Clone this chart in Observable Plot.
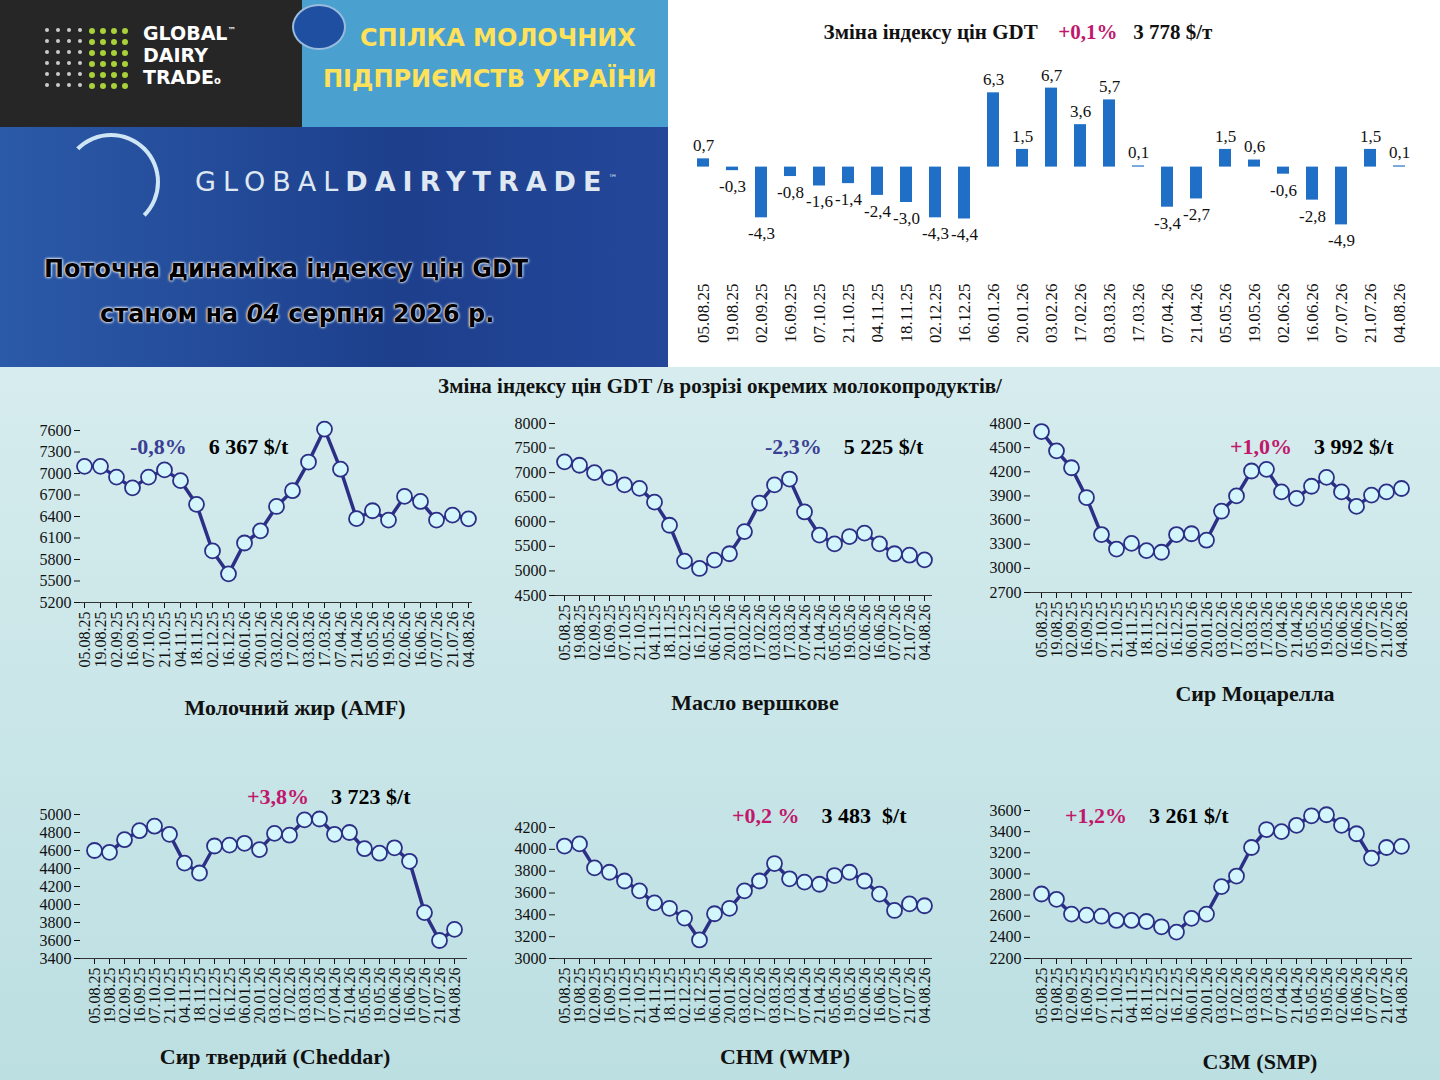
<!DOCTYPE html>
<html><head><meta charset="utf-8">
<script src="https://cdn.jsdelivr.net/npm/d3@7"></script>
<script src="https://cdn.jsdelivr.net/npm/@observablehq/plot@0.6"></script>
<style>
body{margin:0;width:1440px;height:1080px;position:relative;overflow:hidden;font-family:"Liberation Serif",serif;background:linear-gradient(#e4f3f4,#bcdfe2);}
.abs{position:absolute}
.ttl{position:absolute;font-weight:bold;font-size:22px;text-align:center;color:#111}
.ann{position:absolute;font-weight:bold;font-size:22px;white-space:nowrap}
svg{overflow:visible}
</style></head><body>
<script>
const dates=["05.08.25","19.08.25","02.09.25","16.09.25","07.10.25","21.10.25","04.11.25","18.11.25","02.12.25","16.12.25","06.01.26","20.01.26","03.02.26","17.02.26","03.03.26","17.03.26","07.04.26","21.04.26","05.05.26","19.05.26","02.06.26","16.06.26","07.07.26","21.07.26","04.08.26"];
const indexChange=[0.7,-0.3,-4.3,-0.8,-1.6,-1.4,-2.4,-3.0,-4.3,-4.4,6.3,1.5,6.7,3.6,5.7,0.1,-3.4,-2.7,1.5,0.6,-0.6,-2.8,-4.9,1.5,0.1];
const amf=[7100,7100,6950,6800,6950,7050,6900,6570,5920,5600,6030,6200,6540,6760,7160,7620,7060,6370,6480,6350,6680,6610,6350,6420,6367];
const butter=[7220,7150,7000,6900,6750,6680,6400,5930,5200,5050,5220,5350,5800,6380,6750,6870,6200,5730,5550,5700,5770,5550,5350,5320,5225];
const mozzarella=[4700,4460,4250,3880,3420,3240,3310,3220,3200,3420,3430,3350,3710,3900,4210,4230,3950,3870,4020,4130,3950,3770,3910,3950,3992];
const cheddar=[4600,4580,4720,4820,4870,4780,4460,4350,4650,4660,4680,4610,4790,4770,4940,4950,4780,4800,4620,4570,4630,4480,3910,3600,3723];
const wmp=[4030,4050,3830,3790,3710,3620,3510,3460,3370,3170,3410,3460,3620,3710,3870,3730,3700,3680,3760,3790,3710,3590,3440,3500,3483];
const smp=[2810,2760,2620,2610,2600,2560,2560,2550,2500,2450,2580,2620,2880,2980,3250,3420,3400,3460,3550,3560,3460,3380,3150,3250,3261];

function place(el,l,t){el.style.position="absolute";el.style.left=l+"px";el.style.top=t+"px";document.body.appendChild(el);}
function div(html,cls,style){const d=document.createElement("div");d.className=cls||"";d.innerHTML=html;d.setAttribute("style",style||"");document.body.appendChild(d);return d;}

div("","abs","left:0;top:0;width:302px;height:127px;background:#262626");
div("","abs","left:302px;top:0;width:373px;height:127px;background:#4aa0cf");
div("","abs","left:0;top:127px;width:668px;height:240px;background:linear-gradient(90deg,#2b5aa8,#1d3f8c 60%,#24479a)");
div("","abs","left:668px;top:0;width:772px;height:367px;background:#fff");
let dots="";for(let r=0;r<6;r++)for(let c=0;c<8;c++){const g=c>3;dots+=`<span style="position:absolute;left:${c*11}px;top:${r*11}px;width:${g?6:4}px;height:${g?6:4}px;border-radius:50%;background:${g?"#a8d13a":"#ccc"}"></span>`;}
div(dots,"abs","left:45px;top:28px;width:90px;height:66px");
div("GLOBAL<sup style='font-size:8px;line-height:0'>™</sup><br>DAIRY<br>TRADE<span style='font-size:10px'>o</span>","abs","left:143px;top:22px;color:#fff;font-family:'DejaVu Sans';font-weight:bold;font-size:19px;line-height:22px");
div("","abs","left:292px;top:4px;width:50px;height:42px;border-radius:50%;background:#1f4fa0;border:2px solid #9bd");
div("СПІЛКА МОЛОЧНИХ","abs","left:360px;top:24px;color:#ffe15a;font-family:'DejaVu Sans';font-weight:bold;font-size:24px");
div("ПІДПРИЄМСТВ УКРАЇНИ","abs","left:323px;top:65px;color:#ffe15a;font-family:'DejaVu Sans';font-weight:bold;font-size:24px");
div("","abs","left:62px;top:133px;width:90px;height:90px;border-radius:50%;border:4px solid #cfe6f5;border-left-color:transparent;border-bottom-color:transparent");
div("GLOBAL<b>DAIRYTRADE</b><sup style='font-size:9px'>™</sup>","abs","left:195px;top:166px;color:#dfe8f2;font-family:'DejaVu Sans';font-size:27px;letter-spacing:7px");
div("Поточна динаміка індексу цін GDT","abs","left:44px;top:255px;color:#000;font-family:'DejaVu Sans';font-weight:bold;font-size:24px;text-shadow:0 0 1px #fff,0 0 3px #fff,0 0 3px #fff");
div("станом на <i>04</i> серпня 2026 р.","abs","left:100px;top:300px;color:#000;font-family:'DejaVu Sans';font-weight:bold;font-size:24px;text-shadow:0 0 1px #fff,0 0 3px #fff,0 0 3px #fff");
div("Зміна індексу цін GDT &nbsp;&nbsp;&nbsp;<span style='color:#c0186c'>+0,1%</span>&nbsp;&nbsp; 3 778 $/т","ttl","left:668px;top:20px;width:700px;font-size:21px");

const bars=dates.map((d,i)=>({date:d,v:indexChange[i]}));
const fmt=v=>v.toFixed(1).replace(".",",");
const topChart=Plot.plot({width:772,height:322,marginTop:32,marginBottom:132,marginLeft:18,marginRight:25,
 style:{background:"transparent",fontFamily:"Liberation Serif",fontSize:"17px",color:"#111"},
 x:{domain:dates,paddingInner:0.6,paddingOuter:0.1,label:null,tickRotate:-90,tickSize:0,tickPadding:48},
 y:{domain:[-5.8,7.6],axis:null},
 marks:[
  Plot.barY(bars,{x:"date",y:"v",fill:"#1f6fc6"}),
  Plot.text(bars.filter(d=>d.v>=0),{x:"date",y:"v",text:d=>fmt(d.v),dy:-13,fontSize:17,fill:"#111"}),
  Plot.text(bars.filter(d=>d.v<0),{x:"date",y:"v",text:d=>fmt(d.v),dy:16,fontSize:17,fill:"#111"})
 ]});
place(topChart,668,45);

div("Зміна індексу цін GDT /в розрізі окремих молокопродуктів/","ttl","left:0;top:374px;width:1440px;font-size:21px");

function line(vals,o){
 const data=dates.map((d,i)=>({date:d,v:vals[i]}));
 const p=Plot.plot({width:o.w,height:o.mt+o.ph+82,marginTop:o.mt,marginBottom:82,marginLeft:o.ml,marginRight:8,
  style:{background:"transparent",fontFamily:"Liberation Serif",fontSize:"16px",color:"#111"},
  x:{domain:dates,type:"point",padding:0.25,label:null,tickRotate:-90,tickSize:6,tickPadding:3,fontSize:14},
  y:{domain:o.dom,ticks:d3.range(o.dom[0],o.dom[1]+1,o.step),tickFormat:d=>String(d),label:null,tickSize:6},
  marks:[
   Plot.ruleX([0],{frameAnchor:"left",stroke:"#333"}),
   Plot.ruleY([o.dom[0]],{stroke:"#333"}),
   Plot.line(data,{x:"date",y:"v",stroke:"#2c2f86",strokeWidth:3.5}),
   Plot.dot(data,{x:"date",y:"v",r:7.5,fill:"#d2f6fb",stroke:"#2c2f86",strokeWidth:1.8})
  ]});
 place(p,o.l,o.t);
}
line(amf,{l:0,t:415,w:480,ml:80,mt:15,ph:172,dom:[5200,7600],step:300});
line(butter,{l:490,t:415,w:450,ml:65,mt:8,ph:172,dom:[4500,8000],step:500});
line(mozzarella,{l:965,t:415,w:455,ml:65,mt:8,ph:169,dom:[2700,4800],step:300});
line(cheddar,{l:0,t:800,w:475,ml:80,mt:14,ph:144,dom:[3400,5000],step:200});
line(wmp,{l:490,t:800,w:450,ml:65,mt:27,ph:131,dom:[3000,4200],step:200});
line(smp,{l:965,t:800,w:455,ml:65,mt:10,ph:148,dom:[2200,3600],step:200});

div("Молочний жир (AMF)","ttl","left:80px;top:695px;width:430px");
div("Масло вершкове","ttl","left:555px;top:690px;width:400px");
div("Сир Моцарелла","ttl","left:1040px;top:681px;width:430px");
div("Сир твердий (Cheddar)","ttl","left:60px;top:1044px;width:430px");
div("СНМ (WMP)","ttl","left:585px;top:1044px;width:400px");
div("СЗМ (SMP)","ttl","left:1045px;top:1049px;width:430px");

const neg="#3a3f94",pos="#c0186c";
div(`<span style="color:${neg}">-0,8%</span>&nbsp;&nbsp;&nbsp;&nbsp;6 367 $/t`,"ann","left:130px;top:434px");
div(`<span style="color:${neg}">-2,3%</span>&nbsp;&nbsp;&nbsp;&nbsp;5 225 $/t`,"ann","left:765px;top:434px");
div(`<span style="color:${pos}">+1,0%</span>&nbsp;&nbsp;&nbsp;&nbsp;3 992 $/t`,"ann","left:1230px;top:434px");
div(`<span style="color:${pos}">+3,8%</span>&nbsp;&nbsp;&nbsp;&nbsp;3 723 $/t`,"ann","left:247px;top:784px");
div(`<span style="color:${pos}">+0,2 %</span>&nbsp;&nbsp;&nbsp;&nbsp;3 483 &nbsp;$/t`,"ann","left:732px;top:803px");
div(`<span style="color:${pos}">+1,2%</span>&nbsp;&nbsp;&nbsp;&nbsp;3 261 $/t`,"ann","left:1065px;top:803px");
</script>
</body></html>
